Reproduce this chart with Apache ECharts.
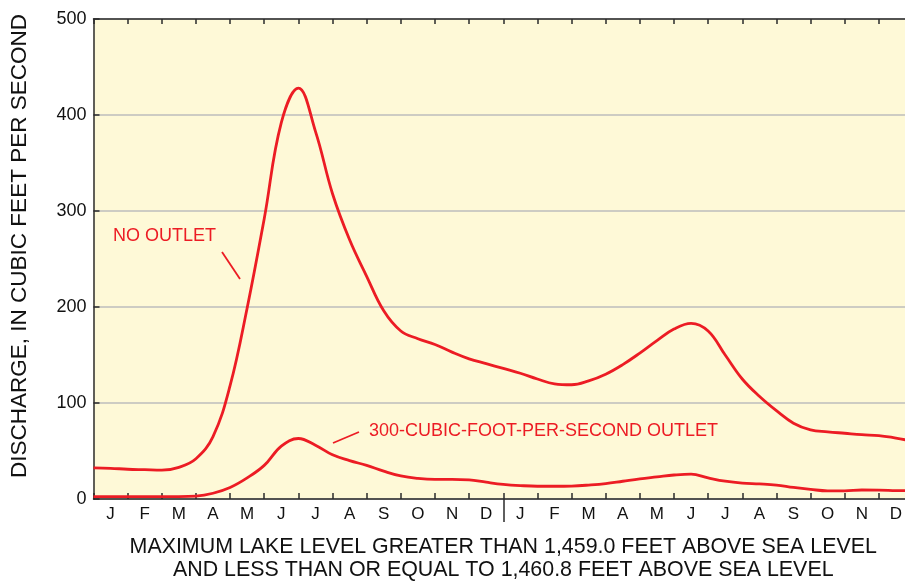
<!DOCTYPE html>
<html>
<head>
<meta charset="utf-8">
<script src="https://cdn.jsdelivr.net/npm/echarts@6/dist/echarts.min.js"></script>
<style>
html,body{margin:0;padding:0;background:#fff;}
#chart{width:905px;height:581px;}
</style>
</head>
<body>
<div id="chart"></div>
<script>
// Month categories (two consecutive years)
const months = ['J','F','M','A','M','J','J','A','S','O','N','D','J','F','M','A','M','J','J','A','S','O','N','D'];
const yTicks = [0, 100, 200, 300, 400, 500];

// Positions (in months from the start of the record) at which the curves were read, every half month
const readMonths = [0,0.5,1,1.5,2,2.5,3,3.5,4,4.5,5,5.5,6,6.5,7,7.5,8,8.5,9,9.5,10,10.5,11,11.5,
                    12,12.5,13,13.5,14,14.5,15,15.5,16,16.5,17,17.5,18,18.5,19,19.5,20,20.5,21,21.5,22,22.5,23,23.5,24];

// NO OUTLET discharge, ft3/s
const noOutletValues = [32.5,32,31,30.5,30,33,42,65,118,199,292,392,428,383,318,270,232,196,175,167,161,153,146,141,
                        136,131,125,120,119,123,130,140,152,165,177,183,175,150,125,107,92,79,72,70,68.5,67,66,63.5,60];

// 300-CUBIC-FOOT-PER-SECOND OUTLET discharge, ft3/s
const outletValues = [2.5,2.5,2.5,2.5,2.5,2.5,3,6,12,22,35,55,63,56,46,40,35,29,24,21.5,20.5,20.5,20,17.5,
                      15.3,14,13.3,13.3,13.5,14.5,16,18.5,21,23,25,26,22,18.5,16.5,15.7,14.5,12,10,8.5,8.5,9.4,9.3,8.8,8.5];

const yearBoundary = [12];

const FONT = '"Liberation Sans", Arial, Helvetica, sans-serif';
const RED = '#ec1c24';
const AXIS = '#2b2b2b';

function pairs(xs, ys){ return xs.map((x,i)=>[x, ys[i]]); }

const chart = echarts.init(document.getElementById('chart'), null, {renderer:'canvas'});
chart.setOption({
  animation:false,
  backgroundColor:'#ffffff',
  textStyle:{fontFamily:FONT},
  grid:{left:93.5, right:-8, top:19, bottom:82, show:true, backgroundColor:'#fef9d7', borderWidth:0,
        containLabel:false, outerBoundsMode:'none'},
  xAxis:[
    {type:'category', data:months, position:'bottom', boundaryGap:true,
     axisLine:{show:true, lineStyle:{color:AXIS, width:1.5}},
     axisTick:{show:true, inside:true, length:6, lineStyle:{color:AXIS, width:1.5}},
     axisLabel:{show:true, color:'#111', fontSize:17, fontFamily:FONT, margin:7},
     splitLine:{show:false},
     name:'MAXIMUM LAKE LEVEL GREATER THAN 1,459.0 FEET ABOVE SEA LEVEL\nAND LESS THAN OR EQUAL TO 1,460.8 FEET ABOVE SEA LEVEL',
     nameLocation:'middle', nameGap:37,
     nameTextStyle:{color:'#111', fontSize:21.4, lineHeight:23, fontFamily:FONT}},
    {type:'category', data:months, position:'top', boundaryGap:true,
     axisLine:{show:true, lineStyle:{color:AXIS, width:1.5}},
     axisTick:{show:true, inside:true, length:5, lineStyle:{color:AXIS, width:1.5}},
     axisLabel:{show:false}, splitLine:{show:false}},
    {type:'value', min:0, max:24, show:false},
    {type:'value', min:0, max:24, position:'bottom',
     axisLine:{show:false},
     axisTick:{show:true, inside:false, length:23, customValues:yearBoundary, lineStyle:{color:AXIS, width:1.5}},
     axisLabel:{show:false}, splitLine:{show:false}}
  ],
  yAxis:[
    {type:'value', min:yTicks[0], max:yTicks[yTicks.length-1], interval:100,
     axisLine:{show:true, lineStyle:{color:AXIS, width:1.5}},
     axisTick:{show:true, inside:true, length:6, lineStyle:{color:AXIS, width:1.5}},
     axisLabel:{color:'#111', fontSize:18, fontFamily:FONT, margin:7},
     splitLine:{show:true, lineStyle:{color:'#bdbdbd', width:1.5}}}
  ],
  series:[
    {name:'NO OUTLET', type:'line', xAxisIndex:2, yAxisIndex:0, data:pairs(readMonths, noOutletValues),
     smooth:0.4, showSymbol:false, symbol:'none',
     lineStyle:{color:RED, width:2.8}},
    {name:'300-CUBIC-FOOT-PER-SECOND OUTLET', type:'line', xAxisIndex:2, yAxisIndex:0, data:pairs(readMonths, outletValues),
     smooth:0.4, showSymbol:false, symbol:'none',
     lineStyle:{color:RED, width:2.8}}
  ],
  graphic:[
    {type:'text', x:20, y:246, rotation:Math.PI/2,
     style:{text:'DISCHARGE, IN CUBIC FEET PER SECOND', fill:'#111', font:'22.5px '+FONT, align:'center', verticalAlign:'middle'}},
    {type:'text', x:113, y:236,
     style:{text:'NO OUTLET', fill:RED, font:'18px '+FONT, align:'left', verticalAlign:'middle'}},
    {type:'line', shape:{x1:222, y1:252, x2:240, y2:279}, style:{stroke:RED, lineWidth:1.8}},
    {type:'text', x:369, y:431,
     style:{text:'300-CUBIC-FOOT-PER-SECOND OUTLET', fill:RED, font:'18px '+FONT, align:'left', verticalAlign:'middle'}},
    {type:'line', shape:{x1:333, y1:443, x2:359, y2:432}, style:{stroke:RED, lineWidth:1.8}}
  ]
});
</script>
</body>
</html>
